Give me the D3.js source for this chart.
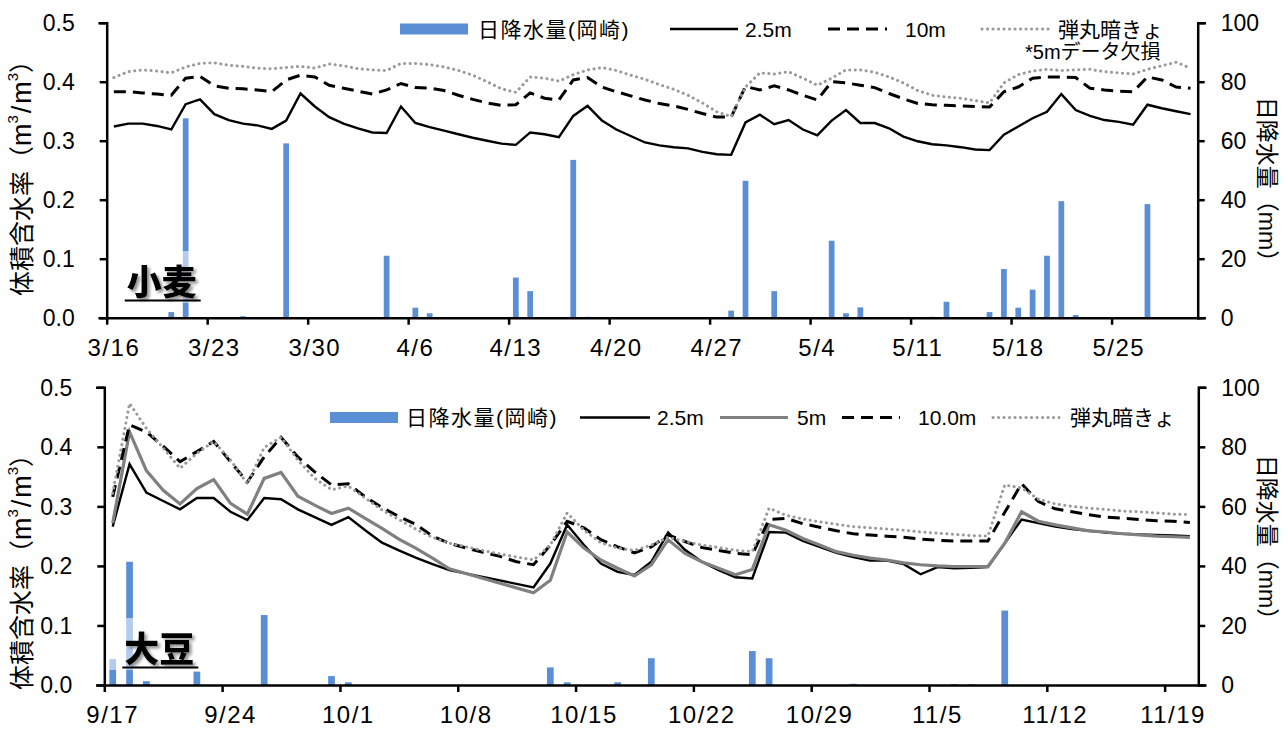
<!DOCTYPE html>
<html><head><meta charset="utf-8">
<script src="https://cdn.jsdelivr.net/npm/d3@7"></script>
<style>body{margin:0;background:#fff}svg{display:block}</style>
</head><body>
<svg id="c" width="1288" height="729"></svg>
<script>
// ---------- DATA ----------
const wheatTicks = ["3/16","3/23","3/30","4/6","4/13","4/20","4/27","5/4","5/11","5/18","5/25"];
const soyTicks = ["9/17","9/24","10/1","10/8","10/15","10/22","10/29","11/5","11/12","11/19"];
const yTicks = [0,0.1,0.2,0.3,0.4,0.5];
const rainTicks = [0,20,40,60,80,100];

// wheat: 3/16 .. 5/30 (76 days)
const wheatRain = [0,0,0,0,1.9,67.6,0,0,0,0.5,
  0,0,59.1,0,0,0,0,0,0,21,
  0,3.4,1.5,0,0,0,0,0,13.6,9,
  0,0,53.5,0.3,0,0,0,0,0,0,
  0,0,0,2.4,46.4,0,9,0,0,0,
  26.1,1.5,3.5,0,0,0,0,0.3,5.4,0,
  0,1.9,16.5,3.4,9.5,21,39.5,0.9,0,0,
  0,0,38.5,0,0,0];
const wheat25 = [0.324,0.329,0.329,0.325,0.319,0.362,0.370,0.345,0.335,0.329,
  0.326,0.320,0.334,0.380,0.358,0.340,0.329,0.321,0.314,0.313,
  0.358,0.330,0.323,0.317,0.311,0.305,0.300,0.295,0.293,0.314,
  0.311,0.306,0.342,0.359,0.334,0.319,0.308,0.297,0.292,0.289,
  0.287,0.281,0.277,0.276,0.331,0.344,0.328,0.335,0.319,0.309,
  0.334,0.352,0.330,0.330,0.321,0.307,0.299,0.294,0.292,0.289,
  0.285,0.284,0.310,0.324,0.338,0.349,0.379,0.352,0.342,0.335,
  0.332,0.327,0.361,0.355,0.350,0.345];
const wheat10 = [0.383,0.383,0.381,0.379,0.377,0.406,0.409,0.393,0.389,0.388,
  0.386,0.383,0.403,0.411,0.408,0.394,0.389,0.384,0.379,0.386,
  0.397,0.390,0.389,0.385,0.377,0.370,0.364,0.360,0.361,0.381,
  0.372,0.369,0.403,0.407,0.391,0.383,0.376,0.369,0.363,0.359,
  0.353,0.346,0.340,0.340,0.392,0.386,0.393,0.386,0.377,0.369,
  0.400,0.398,0.394,0.390,0.380,0.371,0.363,0.361,0.360,0.359,
  0.358,0.357,0.383,0.391,0.406,0.408,0.408,0.407,0.389,0.386,
  0.384,0.383,0.408,0.403,0.391,0.389];
const wheatDrain = [0.407,0.417,0.420,0.418,0.415,0.425,0.431,0.432,0.428,0.426,
  0.423,0.422,0.424,0.426,0.423,0.430,0.427,0.422,0.420,0.419,
  0.431,0.431,0.429,0.425,0.419,0.411,0.400,0.388,0.382,0.408,
  0.406,0.401,0.412,0.420,0.424,0.419,0.411,0.404,0.395,0.387,
  0.377,0.364,0.349,0.341,0.391,0.415,0.413,0.417,0.406,0.394,
  0.406,0.420,0.420,0.416,0.408,0.398,0.385,0.377,0.374,0.372,
  0.368,0.364,0.398,0.412,0.418,0.421,0.419,0.420,0.421,0.417,
  0.415,0.413,0.421,0.427,0.433,0.423];

// soybean: 9/17 .. 11/20 (65 days)
const soyRain = [8.7,41.4,1.3,0,0,4.5,0,0,0,23.5,
  0,0,0,3,0.9,0,0,0,0,0,
  0,0,0,0,0,0,5.9,0.9,0,0,
  0.9,0,9,0,0,0,0,0,11.4,9,
  0,0,0,0,0.4,0,0,0,0,0,
  0.3,0.3,0,25,0,0,0,0,0,0,
  0,0,0,0,0];
const soy25 = [0.266,0.371,0.323,0.309,0.295,0.314,0.314,0.291,0.277,0.314,
  0.312,0.295,0.282,0.269,0.282,0.260,0.239,0.226,0.214,0.203,
  0.193,null,null,null,null,0.164,0.204,0.269,0.235,0.204,
  0.190,0.185,0.207,0.256,0.227,0.207,0.193,0.181,0.179,0.257,
  0.256,0.242,0.232,0.222,0.215,0.209,0.209,0.203,0.186,0.198,
  0.196,0.197,0.198,null,0.278,0.272,0.266,0.262,0.259,0.256,
  0.254,0.253,0.252,0.251,0.250];
const soy5 = [0.272,0.425,0.360,0.327,0.304,0.330,0.345,0.305,0.287,0.347,
  0.357,0.317,0.302,0.288,0.297,0.280,0.263,0.245,0.230,0.213,
  0.195,null,null,null,null,0.155,0.176,0.257,0.230,0.210,
  0.196,0.183,0.202,0.244,0.221,0.207,0.196,0.185,0.194,0.269,
  0.260,0.246,0.235,0.224,0.218,0.213,0.210,0.205,0.202,0.200,
  0.199,0.199,0.199,0.238,0.291,0.275,0.269,0.264,0.259,0.257,
  0.254,0.252,0.250,0.249,0.248];
const soy10 = [0.316,0.437,0.425,0.401,0.375,0.392,0.409,0.375,0.341,0.383,
  0.416,0.383,0.358,0.336,0.338,0.316,0.298,0.283,0.270,0.250,
  0.238,0.230,0.223,0.216,0.207,0.202,0.235,0.275,0.264,0.244,
  0.232,0.222,0.232,0.252,0.241,0.231,0.226,0.221,0.219,0.278,
  0.280,0.271,0.265,0.259,0.254,0.252,0.250,0.248,0.245,0.243,
  0.242,0.242,0.242,null,0.338,0.308,0.296,0.291,0.286,0.282,
  0.280,0.278,0.276,0.275,0.273];
const soyDrain = [0.322,0.473,0.431,0.398,0.364,0.389,0.409,0.378,0.338,0.399,
  0.416,0.378,0.347,0.328,0.334,0.314,0.294,0.278,0.262,0.248,
  0.238,0.232,0.226,0.220,0.215,0.210,0.235,0.289,0.260,0.239,
  0.230,0.226,0.235,0.248,0.241,0.235,0.231,0.226,0.224,0.297,
  0.285,0.279,0.274,0.270,0.266,0.264,0.262,0.260,0.257,0.255,
  0.253,0.251,0.250,0.336,0.331,0.312,0.304,0.300,0.297,0.295,
  0.292,0.291,0.289,0.287,0.286];

// ---------- STYLES ----------
const BLUE = "#5a8fd6";
const NUMF = "'Liberation Sans', Arial, 'Noto Sans CJK JP', sans-serif";
const CJKF = "'Liberation Sans', 'Noto Sans CJK JP', sans-serif";
const styles = {
  s25: {stroke:"#000", width:2.4, dash:null, cap:"butt"},
  s5:  {stroke:"#808080", width:3.2, dash:null, cap:"butt"},
  s10: {stroke:"#000", width:3, dash:"12,7", cap:"butt"},
  sDr: {stroke:"#999", width:3, dash:"0.1,5.4", cap:"round"}
};

const svg = d3.select("#c");
const defs = svg.append("defs");
const f = defs.append("filter").attr("id","sh").attr("x","-20%").attr("y","-20%").attr("width","150%").attr("height","150%");
f.append("feDropShadow").attr("dx",2.5).attr("dy",2.5).attr("stdDeviation",1.5).attr("flood-color","#777").attr("flood-opacity",0.8);

function panel(cfg){
  const g = svg.append("g");
  const n = cfg.rain.length;
  const x = d3.scaleLinear().domain([0,n]).range([cfg.x0,cfg.x1]);
  const y = d3.scaleLinear().domain([0,0.5]).range([cfg.y1,cfg.y0]);
  const yr = d3.scaleLinear().domain([0,100]).range([cfg.y1,cfg.y0]);
  const dw = x(1)-x(0);
  const bw = dw*0.4;

  // bars
  g.append("g").selectAll("rect").data(cfg.rain.map((v,i)=>({i,v})).filter(d=>d.v>0))
    .join("rect")
    .attr("x",d=>x(d.i+0.5)-bw/2).attr("width",bw)
    .attr("y",d=>yr(d.v)).attr("height",d=>yr(0)-yr(d.v))
    .attr("fill",BLUE);

  // crop label box + label
  g.append("rect").attr("x",cfg.x0+1).attr("y",cfg.labelY-44).attr("width",100).attr("height",52)
    .attr("fill","#fff").attr("opacity",0.55);
  g.append("text").attr("x",cfg.x0+20).attr("y",cfg.labelY)
    .attr("font-family","'Noto Sans CJK JP', sans-serif").attr("font-weight",900)
    .attr("font-size",35).attr("fill","#000").attr("filter","url(#sh)").text(cfg.label);
  g.append("line").attr("x1",cfg.x0+18).attr("x2",cfg.x0+94)
    .attr("y1",cfg.labelY+5.5).attr("y2",cfg.labelY+5.5).attr("stroke","#000").attr("stroke-width",2);

  // lines
  const line = d3.line().x(d=>x(d[0]+0.5)).y(d=>y(d[1]));
  cfg.series.forEach(s=>{
    const pts = s.vals.map((v,i)=>[i,v]).filter(d=>d[1]!=null);
    const st = styles[s.style];
    g.append("path").attr("d",line(pts)).attr("fill","none")
      .attr("stroke",st.stroke).attr("stroke-width",st.width)
      .attr("stroke-dasharray",st.dash).attr("stroke-linecap",st.cap)
      .attr("stroke-linejoin","miter");
  });

  // axes
  const axL = d3.axisLeft(y).tickValues(yTicks).tickSize(7).tickFormat("");
  const axR = d3.axisRight(yr).tickValues(rainTicks).tickSize(7).tickFormat("");
  const tv = d3.range(0,n,7);
  const axB = d3.axisBottom(x).tickValues(tv).tickSize(7).tickFormat("").tickSizeOuter(0);
  [ [axL,`translate(${cfg.x0},0)`], [axR,`translate(${cfg.x1},0)`], [axB,`translate(0,${cfg.y1})`] ].forEach(([ax,tr])=>{
    const a = g.append("g").attr("transform",tr).call(ax);
    a.selectAll("path,line").attr("stroke","#000").attr("stroke-width",2.5);
    a.select(".domain").attr("stroke-linecap","square");
  });

  // tick labels
  g.append("g").selectAll("text").data(yTicks).join("text")
    .attr("x",cfg.x0-32).attr("y",d=>y(d)).attr("dy","0.36em").attr("text-anchor","end")
    .attr("font-family",NUMF).attr("font-size",23).text(d=>d.toFixed(1));
  g.append("g").selectAll("text").data(rainTicks).join("text")
    .attr("x",cfg.x1+23).attr("y",d=>yr(d)).attr("dy","0.36em").attr("text-anchor","start")
    .attr("font-family",NUMF).attr("font-size",23).text(d=>d);
  g.append("g").selectAll("text").data(tv).join("text")
    .attr("x",d=>x(d+0.5)).attr("y",cfg.y1+38).attr("text-anchor","middle")
    .attr("font-family",NUMF).attr("font-size",24).attr("letter-spacing",1.5)
    .text((d,i)=>cfg.ticks[i]);

  // axis titles
  const lt = g.append("text").attr("transform",`translate(22,${cfg.ltY}) rotate(-90)`)
    .attr("text-anchor","middle").attr("dominant-baseline","central")
    .attr("font-family",CJKF).attr("font-size",25);
  lt.append("tspan").text("体積含水率（");
  lt.append("tspan").attr("font-size",27).text("m");
  lt.append("tspan").attr("font-size",15).attr("dy",-10).text("3");
  lt.append("tspan").attr("font-size",27).attr("dy",10).attr("dx",2).text("/");
  lt.append("tspan").attr("font-size",27).attr("dx",2).text("m");
  lt.append("tspan").attr("font-size",15).attr("dy",-10).text("3");
  lt.append("tspan").attr("dy",10).text("）");
  g.append("text").attr("transform",`translate(1267,${cfg.rtY}) rotate(90)`)
    .attr("text-anchor","middle").attr("dominant-baseline","central")
    .attr("font-family",CJKF).attr("font-size",23).text("日降水量（mm）");

  // legend
  const L = g.append("g").attr("font-family",CJKF).attr("font-size",21);
  const ly = cfg.legY;
  cfg.legend.forEach(e=>{
    if(e.type==="bar"){
      L.append("rect").attr("x",e.x1).attr("y",ly-5.5).attr("width",e.x2-e.x1).attr("height",11).attr("fill",BLUE);
    } else {
      const st = styles[e.type];
      L.append("line").attr("x1",e.x1).attr("x2",e.x2).attr("y1",ly).attr("y2",ly)
        .attr("stroke",st.stroke).attr("stroke-width",st.width)
        .attr("stroke-dasharray",st.dash).attr("stroke-linecap",st.cap);
    }
    L.append("text").attr("x",e.tx).attr("y",ly).attr("dy","0.36em")
      .attr("letter-spacing",e.ls||0).text(e.text);
  });
  return g;
}

const gw = panel({x0:106.7,x1:1197.7,y0:22.7,y1:317.7,rain:wheatRain,ticks:wheatTicks,
  series:[{vals:wheat25,style:"s25"},{vals:wheat10,style:"s10"},{vals:wheatDrain,style:"sDr"}],
  label:"小麦",labelY:295,ltY:172,rtY:185,legY:29,
  legend:[
    {type:"bar",x1:400,x2:468,tx:478,text:"日降水量(岡崎)",ls:1.5},
    {type:"s25",x1:670,x2:738,tx:745,text:"2.5m"},
    {type:"s10",x1:828,x2:887,tx:905,text:"10m"},
    {type:"sDr",x1:982,x2:1052,tx:1058,text:"弾丸暗きょ"}
  ]});
gw.append("text").attr("x",1025).attr("y",52).attr("dy","0.36em")
  .attr("font-family",CJKF).attr("font-size",20).text("*5mデータ欠損");

panel({x0:104.3,x1:1198.3,y0:387.3,y1:685,rain:soyRain,ticks:soyTicks,
  series:[{vals:soy25,style:"s25"},{vals:soy5,style:"s5"},{vals:soy10,style:"s10"},{vals:soyDrain,style:"sDr"}],
  label:"大豆",labelY:662,ltY:566,rtY:543,legY:417.5,
  legend:[
    {type:"bar",x1:330,x2:398,tx:406,text:"日降水量(岡崎)",ls:1.5},
    {type:"s25",x1:580,x2:650,tx:657,text:"2.5m"},
    {type:"s5",x1:720,x2:788,tx:797,text:"5m"},
    {type:"s10",x1:842,x2:900,tx:918,text:"10.0m"},
    {type:"sDr",x1:993,x2:1062,tx:1070,text:"弾丸暗きょ"}
  ]});
</script>
</body></html>
